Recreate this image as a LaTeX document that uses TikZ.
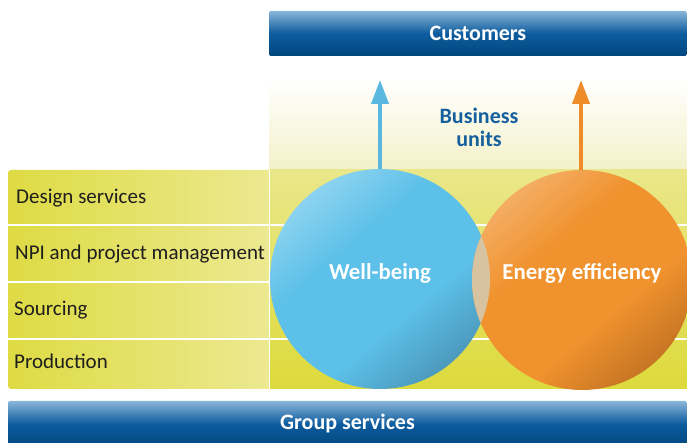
\documentclass[tikz,border=0pt]{standalone}
\usepackage{fontspec}
\setmainfont{Carlito}
\usetikzlibrary{arrows.meta}
\definecolor{barTop}{HTML}{8AB6D9}
\definecolor{barMid}{HTML}{0D5C9E}
\definecolor{barBot}{HTML}{00467E}
\definecolor{buText}{HTML}{16609E}
\definecolor{rowText}{HTML}{1E1E1E}
\definecolor{yelL}{HTML}{DEDB44}
\definecolor{yelR}{HTML}{ECE992}
\definecolor{yelTop}{HTML}{EAE78A}
\definecolor{yelBot}{HTML}{DDDA3C}
\definecolor{buBg}{HTML}{F3F1C8}
\definecolor{bLight}{HTML}{AADEF5}
\definecolor{bMid}{HTML}{5CC0E8}
\definecolor{bDark}{HTML}{4485A6}
\definecolor{oLight}{HTML}{F6BE84}
\definecolor{oMid}{HTML}{F0922E}
\definecolor{oDark}{HTML}{B0661E}
\definecolor{overlapC}{HTML}{D8C3A0}
\definecolor{arrB}{HTML}{5AB8E0}
\definecolor{arrO}{HTML}{EE8C2A}
\pgfdeclareverticalshading{ballBlue}{100bp}{color(0bp)=(bDark); color(17bp)=(bDark); color(40bp)=(bMid); color(60bp)=(bMid); color(84bp)=(bLight); color(100bp)=(bLight)}
\pgfdeclareverticalshading{ballOrange}{100bp}{color(0bp)=(oDark); color(17bp)=(oDark); color(40bp)=(oMid); color(60bp)=(oMid); color(84bp)=(oLight); color(100bp)=(oLight)}
\tikzset{
  bar/.style={rounded corners=2pt, top color=barTop, bottom color=barBot, middle color=barMid, inner sep=0pt},
  bartext/.style={text=white, font=\fontsize{22}{26}\selectfont\bfseries},
  rowlabel/.style={anchor=west, text=rowText, inner sep=0pt, font=\fontsize{21}{25}\selectfont},
  ball/.style={circle, minimum size=220pt, inner sep=0pt},
  balltext/.style={text=white, font=\fontsize{22.8}{26}\selectfont\bfseries},
  upB/.style={draw=arrB, line width=4pt, -{Triangle[length=24pt,width=17pt]}},
  upO/.style={draw=arrO, line width=4pt, -{Triangle[length=24pt,width=17pt]}},
  sep/.style={draw=white, line width=1.5pt}
}
\begin{document}
\begin{tikzpicture}[x=1pt,y=1pt]
\useasboundingbox (0,0) rectangle (687,443);
\clip (0,0) rectangle (687,443);
% business units background
\shade[top color=white, bottom color=buBg] (269,273) rectangle (687,363);
% customers bar
\node[bar, bartext, minimum width=418pt, minimum height=45pt] (cust) at (478,409.5) {Customers};
% table
\shade[left color=yelL, right color=yelR, rounded corners=3pt] (8,54) rectangle (275,273);
\shade[top color=yelTop, bottom color=yelBot] (269,54) rectangle (687,273);
\draw[sep] (8,218) -- (687,218);
\draw[sep] (8,161) -- (687,161);
\draw[sep] (8,104) -- (687,104);
\draw[draw=white, line width=1pt] (269,54) -- (269,273);
\node[rowlabel] (r1) at (16,245) {Design services};
\node[rowlabel] (r2) at (15,189) {NPI and project management};
\node[rowlabel] (r3) at (14,133) {Sourcing};
\node[rowlabel] (r4) at (14,82) {Production};
% business units
\node[text=buText, align=center, font=\fontsize{22}{23}\selectfont\bfseries] (bu) at (479,316) {Business\\units};
% circles
\node[ball, shading=ballBlue, shading angle=40] (wb) at (380,164) {};
\node[ball, shading=ballOrange, shading angle=40] (ee) at (582,163) {};
\begin{scope}
\clip (wb.center) circle (110);
\fill[overlapC] (ee.center) circle (110);
\end{scope}
\node[balltext] (wbt) at ([yshift=6pt]wb.center) {Well-being};
\node[balltext] (eet) at ([yshift=7pt]ee.center) {Energy efficiency};
% arrows
\coordinate (tipB) at (380,363);
\coordinate (tipO) at (581,363);
\draw[upB] (wb.north) -- (tipB);
\draw[upO] ([xshift=-1pt]ee.north) -- (tipO);
% group services bar
\node[bar, bartext, minimum width=679pt, minimum height=46pt] (grp) at (347.5,19) {Group services};
\end{tikzpicture}
\end{document}
